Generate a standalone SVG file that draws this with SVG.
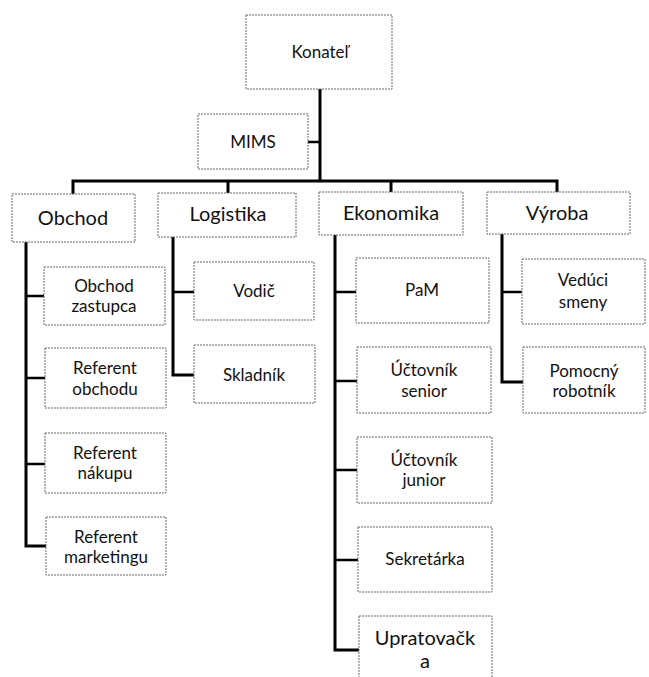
<svg xmlns="http://www.w3.org/2000/svg" width="649" height="677" viewBox="0 0 649 677">
<style>
.box{fill:#fff;stroke:#6a6a6a;stroke-width:1;stroke-dasharray:2 1}
.t{font-family:Lato,"Liberation Sans",sans-serif;font-size:17px;fill:#111;text-anchor:middle}
.big{font-size:20px}
.con{fill:none;stroke:#000;stroke-width:3;stroke-linejoin:miter}
.br{fill:none;stroke:#000;stroke-width:2.5}
</style>
<rect width="649" height="677" fill="#fff"/>
<g id="connectors">
<path class="con" d="M320 89V181M73 194V181H557V192M228 181V193M391 181V192"/>
<path class="br" d="M308 142H320"/>
<path class="con" d="M26 242V546H46"/>
<path class="br" d="M26 296H44M26 378H45M26 464H45"/>
<path class="con" d="M173 237V375H194"/>
<path class="br" d="M173 292H194"/>
<path class="con" d="M335 235V650H359"/>
<path class="br" d="M335 292H356M335 381H357M335 470H357M335 560H358"/>
<path class="con" d="M502 234V382H523"/>
<path class="br" d="M502 292H522"/>
</g>
<g id="konatel"><rect class="box" x="246" y="15" width="146" height="74"/><text class="t" x="320" y="58">Konateľ</text></g>
<g id="mims"><rect class="box" x="198" y="114" width="110" height="55"/><text class="t" x="253" y="148">MIMS</text></g>
<g id="obchod"><rect class="box" x="12" y="194" width="123" height="48"/><text class="t big" x="73" y="225">Obchod</text></g>
<g id="logistika"><rect class="box" x="158" y="193" width="138" height="44"/><text class="t big" x="228" y="221">Logistika</text></g>
<g id="ekonomika"><rect class="box" x="319" y="192" width="144" height="43"/><text class="t big" x="391" y="220">Ekonomika</text></g>
<g id="vyroba"><rect class="box" x="487" y="192" width="143" height="42"/><text class="t big" x="557" y="220">Výroba</text></g>
<g id="obchod-zastupca"><rect class="box" x="44" y="267" width="121" height="58"/><text class="t" x="104" y="292">Obchod</text><text class="t" x="104" y="312">zastupca</text></g>
<g id="referent-obchodu"><rect class="box" x="45" y="348" width="121" height="60"/><text class="t" x="105" y="374">Referent</text><text class="t" x="105" y="395">obchodu</text></g>
<g id="referent-nakupu"><rect class="box" x="45" y="433" width="121" height="60"/><text class="t" x="105" y="459">Referent</text><text class="t" x="105" y="479">nákupu</text></g>
<g id="referent-marketingu"><rect class="box" x="46" y="517" width="120" height="58"/><text class="t" x="106" y="543">Referent</text><text class="t" x="106" y="563">marketingu</text></g>
<g id="vodic"><rect class="box" x="194" y="262" width="120" height="58"/><text class="t" x="254" y="297">Vodič</text></g>
<g id="skladnik"><rect class="box" x="194" y="345" width="121" height="58"/><text class="t" x="254" y="381">Skladník</text></g>
<g id="pam"><rect class="box" x="356" y="258" width="133" height="65"/><text class="t" x="422" y="296">PaM</text></g>
<g id="uctovnik-senior"><rect class="box" x="357" y="347" width="134" height="66"/><text class="t" x="424" y="376">Účtovník</text><text class="t" x="424" y="397">senior</text></g>
<g id="uctovnik-junior"><rect class="box" x="357" y="437" width="135" height="66"/><text class="t" x="424" y="466">Účtovník</text><text class="t" x="424" y="486">junior</text></g>
<g id="sekretarka"><rect class="box" x="358" y="527" width="134" height="65"/><text class="t" x="425" y="565">Sekretárka</text></g>
<g id="upratovacka"><rect class="box" x="359" y="616" width="133" height="72"/><text class="t big" x="425" y="645">Upratovačk</text><text class="t big" x="425" y="668">a</text></g>
<g id="veduci-smeny"><rect class="box" x="522" y="259" width="123" height="65"/><text class="t" x="583" y="286">Vedúci</text><text class="t" x="583" y="308">smeny</text></g>
<g id="pomocny-robotnik"><rect class="box" x="523" y="347" width="122" height="66"/><text class="t" x="584" y="377">Pomocný</text><text class="t" x="584" y="397">robotník</text></g>
</svg>
